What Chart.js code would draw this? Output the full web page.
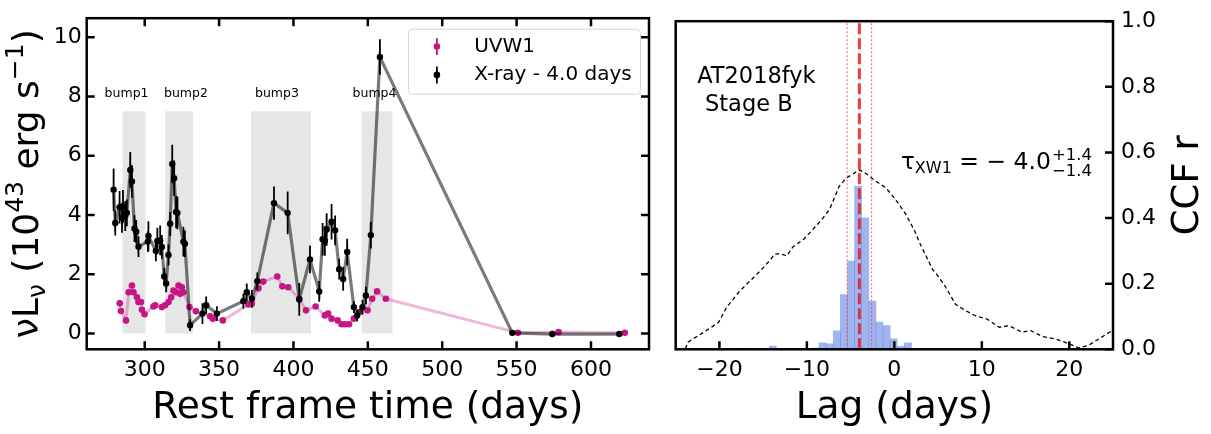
<!DOCTYPE html>
<html>
<head>
<meta charset="utf-8">
<script src="https://cdn.jsdelivr.net/npm/chart.js@4.4.1/dist/chart.umd.min.js"></script>
<style>
  body { margin: 0; background: #fff; }
  #wrap { position: relative; width: 1211px; height: 434px; }
  canvas { position: absolute; top: 0; }
  #left { left: 0; }
  #right { left: 660px; }
</style>
</head>
<body>
<div id="wrap">
  <canvas id="left" width="660" height="434"></canvas>
  <canvas id="right" width="551" height="434"></canvas>
</div>
<script>
const FONT = 'DejaVu Sans';

// X-ray light curve (already shifted by -4.0 days), 1e43 erg/s
const xrayDays = [279.1, 280.2, 283.1, 284.7, 285.4, 286.9, 288.0, 290.3, 291.4, 293.1, 294.3, 295.8,
  302.1, 302.5, 307.5, 308.5, 310.4, 311.5, 313.1, 314.4, 316.0, 317.1, 318.5, 319.8, 321.1, 322.0,
  326.0, 327.0, 330.5, 338.8, 341.3, 348.5, 366.3, 368.6, 372.0, 375.7, 386.9, 396.1, 403.9, 411.1,
  417.3, 419.6, 421.1, 422.3, 425.6, 428.0, 430.7, 433.4, 436.1, 440.6, 442.8, 446.4, 448.7, 452.0,
  458.1, 547.1, 574.0, 619.0];
const xrayLum = [4.85, 3.73, 4.26, 3.90, 4.29, 3.96, 4.07, 5.52, 5.13, 3.54, 3.43, 2.93,
  3.10, 3.29, 2.79, 3.12, 3.14, 2.92, 1.92, 1.69, 2.65, 3.70, 5.72, 5.24, 4.10, 4.07,
  3.10, 3.03, 0.28, 0.67, 0.95, 0.67, 1.09, 1.39, 1.17, 1.76, 4.40, 4.07, 1.15, 2.50,
  1.42, 3.18, 3.12, 3.51, 3.77, 3.48, 2.17, 1.84, 2.75, 0.89, 0.61, 0.89, 1.28, 3.32,
  9.33, 0.02, -0.02, -0.02];
const xrayErr = [0.72, 0.42, 0.55, 0.50, 0.55, 0.50, 0.45, 0.60, 0.55, 0.45, 0.40, 0.35,
  0.35, 0.50, 0.35, 0.45, 0.50, 0.40, 0.30, 0.30, 0.35, 0.40, 0.65, 0.60, 0.55, 0.55,
  0.50, 0.45, 0.20, 0.35, 0.30, 0.25, 0.25, 0.30, 0.30, 0.30, 0.56, 0.72, 0.55, 0.47,
  0.35, 0.55, 0.50, 0.55, 0.60, 0.50, 0.35, 0.40, 0.45, 0.20, 0.20, 0.25, 0.30, 0.45,
  0.60, 0.03, 0.03, 0.03];

// UVW1 light curve
const uvDays = [283.2, 284.0, 287.4, 289.2, 291.4, 292.5, 294.8, 295.8, 297.5, 298.1, 299.9,
  305.9, 307.0, 311.5, 313.7, 316.0, 317.8, 319.3, 321.1, 322.7, 323.8, 325.0, 326.0, 330.1,
  334.4, 344.0, 345.8, 352.5, 369.7, 372.0, 376.4, 379.7, 389.1, 392.5, 396.5, 403.9, 408.4,
  414.9, 421.1, 423.3, 425.6, 429.7, 432.3, 434.6, 437.3, 440.6, 444.6, 449.8, 452.9, 456.2,
  462.1, 550.9, 578.2, 622.7];
const uvLum = [1.02, 0.76, 0.44, 1.39, 1.62, 1.39, 1.22, 1.06, 1.06, 0.80, 0.65,
  0.91, 0.95, 0.89, 0.95, 1.06, 1.22, 1.45, 1.39, 1.62, 1.34, 1.56, 1.39, 0.89,
  0.75, 0.58, 0.50, 0.44, 0.98, 1.00, 1.52, 1.75, 1.92, 1.59, 1.56, 1.17, 0.78,
  0.91, 0.61, 0.67, 0.50, 0.44, 0.31, 0.31, 0.31, 0.50, 0.72, 0.78, 1.17, 1.42,
  1.17, 0.02, 0.05, 0.02];
const uvErr = [0.12, 0.08, 0.06, 0.06, 0.06, 0.05, 0.05, 0.05, 0.05, 0.05, 0.05,
  0.05, 0.05, 0.05, 0.05, 0.05, 0.05, 0.05, 0.05, 0.05, 0.05, 0.05, 0.05, 0.05,
  0.05, 0.04, 0.04, 0.04, 0.05, 0.05, 0.05, 0.05, 0.05, 0.05, 0.05, 0.05, 0.04,
  0.04, 0.04, 0.04, 0.03, 0.03, 0.03, 0.03, 0.03, 0.03, 0.04, 0.04, 0.05, 0.05,
  0.05, 0.01, 0.01, 0.01];

const bumpNames = ['bump1', 'bump2', 'bump3', 'bump4'];
const bumpStart = [285.1, 313.8, 371.5, 445.8];
const bumpEnd = [300.5, 332.4, 411.7, 466.6];
const bumpLabelDay = [287.8, 327.7, 388.9, 454.5];
const bumpTop = 7.5;
const bumpLabelLevel = 8.08;

const timeTicks = [300, 350, 400, 450, 500, 550, 600];
const lumTicks = [0, 2, 4, 6, 8, 10];

// lag distribution (histogram) and CCF
const lagBins = [-17.96, -17.15, -13.9, -12.27, -11.46, -10.64, -9.02, -8.21, -7.39, -6.58,
  -5.77, -4.95, -4.14, -3.33, -2.51, -1.70, -0.89, -0.08, 0.74, 1.55];
const lagCounts = [0.003, 0.003, 0.01, 0.003, 0.003, 0.003, 0.004, 0.02, 0.017, 0.056,
  0.167, 0.269, 0.497, 0.401, 0.147, 0.083, 0.072, 0.032, 0.009, 0.02];
const ccfLag = [-23.9, -23.6, -21.5, -20.1, -19.2, -17.7, -15.4, -14.1, -13.7, -13.1, -12.3,
  -11.6, -10.3, -8.4, -7.4, -6.3, -5.5, -4.7, -4.0, -3.2, -2.1, -0.95, 0.4, 1.3, 2.3, 2.85,
  4.4, 4.75, 5.7, 7.0, 8.2, 9.3, 10.6, 12.0, 13.1, 14.6, 15.6, 16.9, 18.4, 19.95, 21.1, 22.2,
  23.4, 24.9];
const ccfR = [0.002, 0.022, 0.057, 0.082, 0.127, 0.177, 0.237, 0.275, 0.29, 0.292, 0.285,
  0.312, 0.337, 0.392, 0.427, 0.497, 0.522, 0.535, 0.547, 0.535, 0.512, 0.492, 0.447, 0.412,
  0.362, 0.327, 0.242, 0.232, 0.197, 0.137, 0.117, 0.102, 0.092, 0.067, 0.072, 0.052, 0.057,
  0.039, 0.032, 0.017, 0.004, 0.012, 0.032, 0.057];
const tauCentre = -4.0;
const tauLow = 1.4;
const tauHigh = 1.4;

const lagTicks = [-20, -10, 0, 10, 20];
const rTicks = [0, 0.2, 0.4, 0.6, 0.8, 1.0];

function pts(xs, ys) {
  return xs.map((v, i) => ({x: v, y: ys[i]}));
}

function minusSign(v) {
  return v < 0 ? '\u2212' + Math.abs(v) : String(v);
}

// vertical error bars, drawn through the y scale
const errorBars = {
  id: 'errorBars',
  beforeDatasetDraw(chart, args) {
    const ds = chart.data.datasets[args.index];
    if (!ds.errors) return;
    const ctx = chart.ctx;
    const ys = chart.scales[args.meta.yAxisID];
    ctx.save();
    ctx.strokeStyle = ds.pointBackgroundColor;
    ctx.lineWidth = 1.8;
    ctx.beginPath();
    args.meta.data.forEach((p, i) => {
      const v = ds.data[i].y, e = ds.errors[i];
      ctx.moveTo(p.x, ys.getPixelForValue(v - e));
      ctx.lineTo(p.x, ys.getPixelForValue(v + e));
    });
    ctx.stroke();
    ctx.restore();
  }
};

// box + inward ticks like matplotlib
const frameTicks = {
  id: 'frameTicks',
  afterDraw(chart, args, opts) {
    const {ctx, chartArea: a} = chart;
    const xs = chart.scales.x, ys = chart.scales.y;
    const len = 8;
    ctx.save();
    ctx.strokeStyle = '#000';
    ctx.lineWidth = 2.5;
    ctx.strokeRect(a.left, a.top, a.right - a.left, a.bottom - a.top);
    ctx.beginPath();
    xs.ticks.forEach(t => {
      const px = xs.getPixelForValue(t.value);
      if (opts.bottom) { ctx.moveTo(px, a.bottom); ctx.lineTo(px, a.bottom - len); }
      if (opts.top) { ctx.moveTo(px, a.top); ctx.lineTo(px, a.top + len); }
    });
    ys.ticks.forEach(t => {
      const py = ys.getPixelForValue(t.value);
      if (opts.left) { ctx.moveTo(a.left, py); ctx.lineTo(a.left + len, py); }
      if (opts.right) { ctx.moveTo(a.right, py); ctx.lineTo(a.right - len, py); }
    });
    ctx.stroke();
    ctx.restore();
  }
};

function drawErrMarker(ctx, x, y, color) {
  ctx.strokeStyle = color;
  ctx.fillStyle = color;
  ctx.lineWidth = 1.8;
  ctx.beginPath();
  ctx.moveTo(x, y - 8.5);
  ctx.lineTo(x, y + 8.5);
  ctx.stroke();
  ctx.beginPath();
  ctx.arc(x, y, 3.3, 0, Math.PI * 2);
  ctx.fill();
}

function drawPieces(ctx, pieces, x, baseline) {
  pieces.forEach(p => {
    ctx.font = p.size + 'px "' + FONT + '"';
    ctx.fillText(p.t, x, baseline + (p.dy || 0));
    x += ctx.measureText(p.t).width;
  });
  return x;
}

function piecesWidth(ctx, pieces) {
  let w = 0;
  pieces.forEach(p => {
    ctx.font = p.size + 'px "' + FONT + '"';
    w += ctx.measureText(p.t).width;
  });
  return w;
}

const leftDecor = {
  id: 'leftDecor',
  beforeDatasetsDraw(chart) {
    const {ctx, scales: {x, y}} = chart;
    ctx.save();
    ctx.fillStyle = 'rgba(128,128,128,0.2)';
    bumpStart.forEach((s, i) => {
      const x0 = x.getPixelForValue(s), x1 = x.getPixelForValue(bumpEnd[i]);
      const y0 = y.getPixelForValue(bumpTop), y1 = y.getPixelForValue(0);
      ctx.fillRect(x0, y0, x1 - x0, y1 - y0);
    });
    ctx.fillStyle = '#000';
    ctx.font = '12.5px "' + FONT + '"';
    ctx.textAlign = 'center';
    ctx.textBaseline = 'middle';
    bumpNames.forEach((n, i) => {
      ctx.fillText(n, x.getPixelForValue(bumpLabelDay[i]), y.getPixelForValue(bumpLabelLevel));
    });
    ctx.restore();
  },
  afterDraw(chart) {
    const {ctx, chartArea: a} = chart;
    ctx.save();
    // legend
    const w = 232, h = 65;
    const bx = a.right - 8.5 - w, by = a.top + 11;
    ctx.fillStyle = 'rgba(255,255,255,0.85)';
    ctx.strokeStyle = '#d6d6d6';
    ctx.lineWidth = 1;
    ctx.beginPath();
    ctx.roundRect(bx, by, w, h, 4);
    ctx.fill();
    ctx.stroke();
    drawErrMarker(ctx, bx + 28.4, by + 17.3, '#c71585');
    drawErrMarker(ctx, bx + 28.4, by + 45.7, '#000');
    ctx.fillStyle = '#000';
    ctx.font = '20px "' + FONT + '"';
    ctx.textBaseline = 'middle';
    ctx.fillText('UVW1', bx + 65.7, by + 17.3);
    ctx.fillText('X-ray - 4.0 days', bx + 65.7, by + 45.7);

    // y axis title with sub/superscripts
    const pieces = [
      {t: '\u03bdL', size: 36},
      {t: '\u03bd', size: 25, dy: 7},
      {t: ' (10', size: 36},
      {t: '43', size: 25, dy: -15},
      {t: ' erg s', size: 36},
      {t: '\u22121', size: 25, dy: -15},
      {t: ')', size: 36}
    ];
    ctx.textBaseline = 'alphabetic';
    ctx.textAlign = 'left';
    const tw = piecesWidth(ctx, pieces);
    ctx.translate(38, (a.top + a.bottom) / 2);
    ctx.rotate(-Math.PI / 2);
    drawPieces(ctx, pieces, -tw / 2, 0);
    ctx.restore();
  }
};

const rightDecor = {
  id: 'rightDecor',
  afterDraw(chart) {
    const {ctx, chartArea: a, scales: {x, y}} = chart;
    const aw = a.right - a.left, ah = a.bottom - a.top;
    ctx.save();
    ctx.fillStyle = '#000';
    ctx.font = '22.5px "' + FONT + '"';
    ctx.textBaseline = 'middle';
    ctx.fillText('AT2018fyk', a.left + 0.049 * aw, a.top + 0.17 * ah);
    ctx.fillText('Stage B', a.left + 0.067 * aw, a.top + 0.255 * ah);

    // tau annotation
    ctx.textBaseline = 'alphabetic';
    const tx = x.getPixelForValue(0.76), ty = y.getPixelForValue(0.551);
    let cx = drawPieces(ctx, [{t: '\u03c4', size: 23}, {t: 'XW1', size: 16, dy: 4}], tx, ty);
    cx = drawPieces(ctx, [{t: ' = \u2212 4.0', size: 23.5}], cx, ty);
    drawPieces(ctx, [{t: '+' + tauHigh.toFixed(1), size: 16.5}], cx + 1, ty - 9);
    drawPieces(ctx, [{t: '\u2212' + tauLow.toFixed(1), size: 16.5}], cx + 1, ty + 7);

    // right axis title
    ctx.font = '37px "' + FONT + '"';
    ctx.textAlign = 'center';
    ctx.textBaseline = 'alphabetic';
    ctx.translate(a.right + 85, (a.top + a.bottom) / 2);
    ctx.rotate(-Math.PI / 2);
    ctx.fillText('CCF r', 0, 0);
    ctx.restore();
  }
};

Chart.defaults.font.family = FONT;
Chart.defaults.color = '#000';

window.onload = () => {
  new Chart(document.getElementById('left'), {
    type: 'line',
    data: {
      datasets: [
        {
          label: 'X-ray - 4.0 days',
          data: pts(xrayDays, xrayLum),
          errors: xrayErr,
          borderColor: 'rgba(0,0,0,0.52)',
          borderWidth: 3.2,
          pointRadius: 3.2,
          pointBorderWidth: 0,
          pointBackgroundColor: '#000',
          tension: 0
        },
        {
          label: 'UVW1',
          data: pts(uvDays, uvLum),
          errors: uvErr,
          borderColor: 'rgba(199,21,133,0.3)',
          borderWidth: 3,
          pointRadius: 3.3,
          pointBorderWidth: 0,
          pointBackgroundColor: '#c71585',
          tension: 0
        }
      ]
    },
    options: {
      responsive: false,
      animation: false,
      devicePixelRatio: 1,
      layout: {padding: {top: 15, right: 11, left: 0, bottom: 0}},
      scales: {
        x: {
          type: 'linear',
          min: 261,
          max: 639,
          afterBuildTicks: s => { s.ticks = timeTicks.map(v => ({value: v})); },
          afterFit: s => { s.height = 84.7; },
          grid: {display: false, drawTicks: false},
          border: {display: false},
          ticks: {font: {size: 22}, color: '#000', padding: 8, maxRotation: 0, minRotation: 0},
          title: {display: true, text: 'Rest frame time (days)', font: {size: 37.5}, color: '#000',
            padding: {top: 0, bottom: 3}}
        },
        y: {
          min: -0.535,
          max: 10.64,
          afterBuildTicks: s => { s.ticks = lumTicks.map(v => ({value: v})); },
          afterFit: s => { s.width = 86.7; },
          grid: {display: false, drawTicks: false},
          border: {display: false},
          ticks: {font: {size: 22}, color: '#000', padding: 5}
        }
      },
      plugins: {
        legend: {display: false},
        tooltip: {enabled: false},
        frameTicks: {top: true, bottom: true, left: true, right: true}
      }
    },
    plugins: [errorBars, leftDecor, frameTicks]
  });

  new Chart(document.getElementById('right'), {
    type: 'bar',
    data: {
      datasets: [
        {
          type: 'line',
          data: [{x: tauCentre, y: 0}, {x: tauCentre, y: 1}],
          borderColor: 'rgba(235,25,25,0.85)',
          borderWidth: 3,
          borderDash: [11, 4],
          pointRadius: 0
        },
        {
          type: 'line',
          data: [{x: tauCentre - tauLow, y: 0}, {x: tauCentre - tauLow, y: 1}],
          borderColor: 'rgba(255,40,40,0.75)',
          borderWidth: 1,
          borderDash: [2, 2],
          pointRadius: 0
        },
        {
          type: 'line',
          data: [{x: tauCentre + tauHigh, y: 0}, {x: tauCentre + tauHigh, y: 1}],
          borderColor: 'rgba(255,40,40,0.75)',
          borderWidth: 1,
          borderDash: [2, 2],
          pointRadius: 0
        },
        {
          type: 'line',
          data: pts(ccfLag, ccfR),
          borderColor: '#000',
          borderWidth: 1.3,
          borderDash: [4, 3],
          pointRadius: 0,
          tension: 0
        },
        {
          type: 'bar',
          data: pts(lagBins, lagCounts),
          backgroundColor: 'rgba(65,105,225,0.5)',
          barPercentage: 1,
          categoryPercentage: 1,
          grouped: false
        }
      ]
    },
    options: {
      responsive: false,
      animation: false,
      devicePixelRatio: 1,
      layout: {padding: {top: 15, right: 0, left: 15.7, bottom: 0}},
      scales: {
        x: {
          type: 'linear',
          min: -25,
          max: 25,
          offset: false,
          afterBuildTicks: s => { s.ticks = lagTicks.map(v => ({value: v})); },
          afterFit: s => { s.height = 84.7; },
          grid: {display: false, drawTicks: false},
          border: {display: false},
          ticks: {font: {size: 22}, color: '#000', padding: 8, maxRotation: 0, minRotation: 0,
            callback: v => minusSign(v)},
          title: {display: true, text: 'Lag (days)', font: {size: 37.5}, color: '#000',
            padding: {top: 0, bottom: 3}}
        },
        y: {
          position: 'right',
          min: 0,
          max: 1,
          afterBuildTicks: s => { s.ticks = rTicks.map(v => ({value: v})); },
          afterFit: s => { s.width = 98; },
          grid: {display: false, drawTicks: false},
          border: {display: false},
          ticks: {font: {size: 22}, color: '#000', padding: 8, callback: v => v.toFixed(1)}
        }
      },
      plugins: {
        legend: {display: false},
        tooltip: {enabled: false},
        frameTicks: {top: false, bottom: true, left: false, right: true}
      }
    },
    plugins: [rightDecor, frameTicks]
  });
};
</script>
</body>
</html>
